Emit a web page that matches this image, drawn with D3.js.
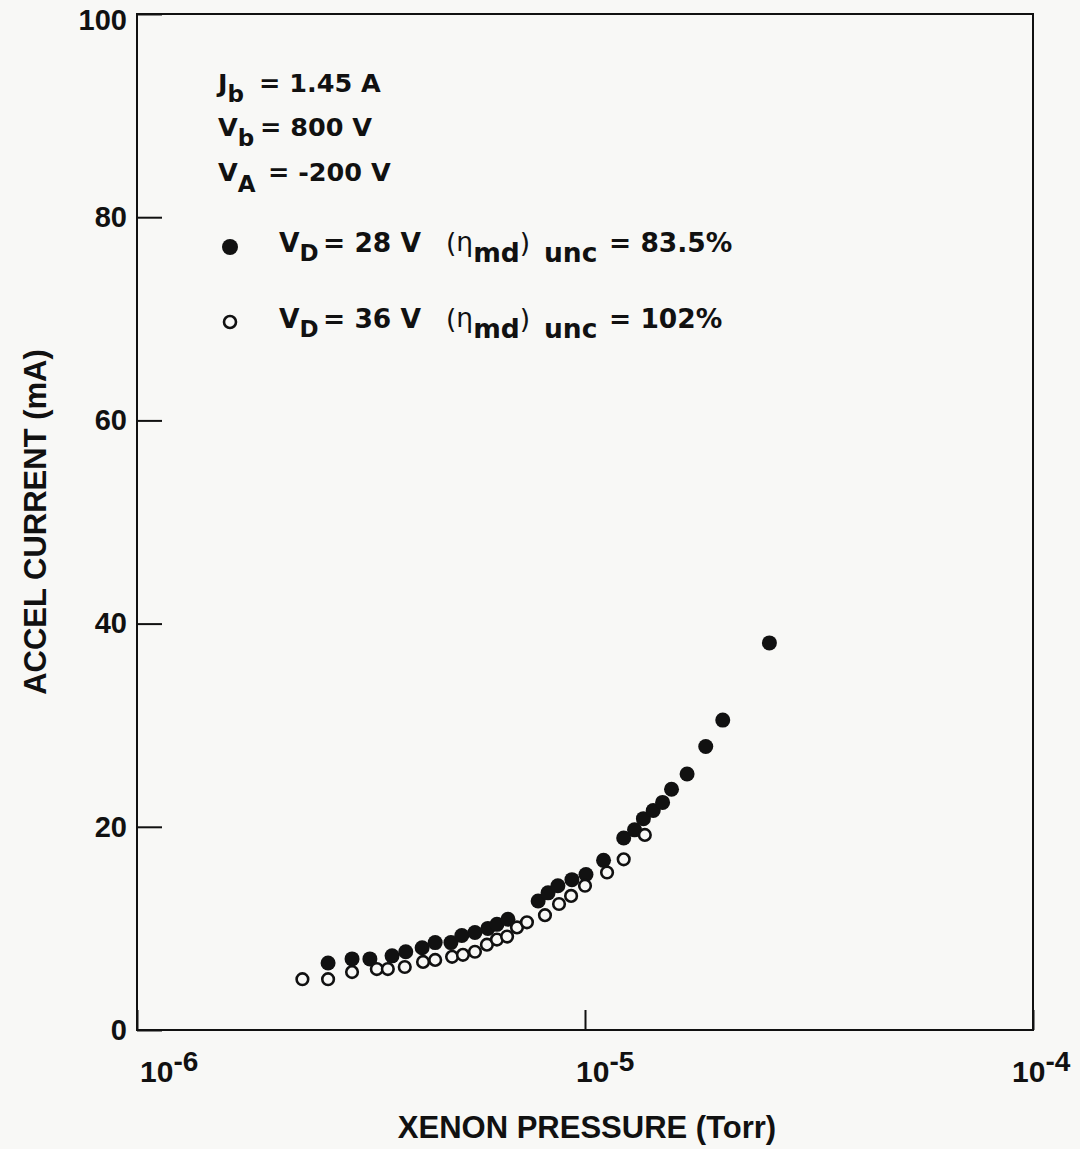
<!DOCTYPE html>
<html>
<head>
<meta charset="utf-8">
<script src="https://cdn.jsdelivr.net/npm/d3@7"></script>
<style>
  html, body { margin: 0; padding: 0; background: #f8f8f6; }
  svg { display: block; }
  text { font-family: "Liberation Sans", Arial, Helvetica, sans-serif; font-weight: bold; fill: #111; }
  .ann text { font-family: "DejaVu Sans", sans-serif; font-weight: bold; }
  .ann text tspan.lite { font-weight: normal; }
</style>
</head>
<body>
<svg id="chart" width="1080" height="1149"></svg>
<script>
// ---- data ----
const pressureFilled = [2.67e-6, 3.02e-6, 3.31e-6, 3.71e-6, 3.98e-6, 4.33e-6, 4.63e-6, 5.02e-6, 5.31e-6, 5.68e-6,
  6.07e-6, 6.36e-6, 6.73e-6, 7.86e-6, 8.27e-6, 8.70e-6, 9.35e-6, 1.005e-5, 1.10e-5, 1.22e-5,
  1.29e-5, 1.35e-5, 1.42e-5, 1.49e-5, 1.56e-5, 1.69e-5, 1.86e-5, 2.03e-5, 2.58e-5];
const currentFilled = [6.6, 7.0, 7.0, 7.3, 7.7, 8.1, 8.6, 8.6, 9.3, 9.6,
  10.0, 10.4, 10.9, 12.7, 13.5, 14.2, 14.8, 15.3, 16.7, 18.9,
  19.7, 20.8, 21.6, 22.4, 23.7, 25.2, 27.9, 30.5, 38.1];

const pressureOpen = [2.34e-6, 2.67e-6, 3.02e-6, 3.43e-6, 3.63e-6, 3.96e-6, 4.35e-6, 4.63e-6, 5.05e-6, 5.34e-6,
  5.68e-6, 6.04e-6, 6.36e-6, 6.70e-6, 7.05e-6, 7.42e-6, 8.14e-6, 8.75e-6, 9.31e-6, 1.0e-5,
  1.12e-5, 1.22e-5, 1.36e-5];
const currentOpen = [5.0, 5.0, 5.7, 6.0, 6.0, 6.2, 6.7, 6.9, 7.2, 7.4,
  7.7, 8.4, 8.9, 9.2, 10.1, 10.6, 11.3, 12.4, 13.2, 14.2,
  15.5, 16.8, 19.2];

const xTicks = [1e-6, 1e-5, 1e-4];
const xTickExponents = ["-6", "-5", "-4"];
const yTicks = [0, 20, 40, 60, 80, 100];

const xTitle = "XENON PRESSURE (Torr)";
const yTitle = "ACCEL CURRENT (mA)";

const params = [
  { main: "J", sub: "b", rest: "= 1.45 A" },
  { main: "V", sub: "b", rest: "= 800 V" },
  { main: "V", sub: "A", rest: "= -200 V" }
];
const legendSeries = [
  { filled: true, vd: "28", eff: "83.5%" },
  { filled: false, vd: "36", eff: "102%" }
];

// ---- layout ----
const W = 1080, H = 1149;
const margin = { left: 137, right: 47, top: 14, bottom: 119 };
const bg = "#f8f8f6";

const svg = d3.select("#chart");
svg.append("rect").attr("width", W).attr("height", H).attr("fill", bg);

const x = d3.scaleLog().domain([1e-6, 1e-4]).range([margin.left, W - margin.right]);
const y = d3.scaleLinear().domain([0, 100]).range([H - margin.bottom, margin.top]);

// y axis (inward ticks)
const gy = svg.append("g")
  .attr("transform", `translate(${margin.left},0)`)
  .call(d3.axisLeft(y).tickValues(yTicks).tickSizeInner(-25).tickSizeOuter(0).tickPadding(10).tickFormat(d3.format("d")));
gy.select(".domain").remove();
gy.selectAll(".tick line").attr("stroke", "#111").attr("stroke-width", 2);
gy.selectAll(".tick text").attr("font-size", 29).attr("fill", "#111")
  .attr("font-family", "Liberation Sans, Arial, sans-serif").attr("font-weight", "bold")
  .attr("dy", d => d === 100 ? "0.52em" : "0.32em");

// x axis (inward ticks)
const gx = svg.append("g")
  .attr("transform", `translate(0,${H - margin.bottom})`)
  .call(d3.axisBottom(x).tickValues(xTicks).tickSizeInner(-20).tickSizeOuter(0).tickFormat(""));
gx.select(".domain").remove();
gx.selectAll(".tick line").attr("stroke", "#111").attr("stroke-width", 2);

const labelShift = [3, -9, -21];
xTicks.forEach((t, i) => {
  const tx = svg.append("text")
    .attr("x", x(t) + labelShift[i])
    .attr("y", H - margin.bottom + 52)
    .attr("font-size", 30)
    .attr("text-anchor", "start");
  tx.append("tspan").text("10");
  tx.append("tspan").attr("font-size", 28).attr("dy", -11).text(xTickExponents[i]);
});

// frame
svg.append("rect")
  .attr("x", margin.left).attr("y", margin.top)
  .attr("width", W - margin.left - margin.right)
  .attr("height", H - margin.top - margin.bottom)
  .attr("fill", "none").attr("stroke", "#111").attr("stroke-width", 2);

// axis titles
svg.append("text")
  .attr("x", 587)
  .attr("y", 1138)
  .attr("text-anchor", "middle")
  .attr("font-size", 31)
  .text(xTitle);

svg.append("text")
  .attr("transform", `translate(46,${y(50)}) rotate(-90)`)
  .attr("text-anchor", "middle")
  .attr("font-size", 31)
  .text(yTitle);

// data points
const filled = pressureFilled.map((p, i) => ({ p, c: currentFilled[i] }));
const open = pressureOpen.map((p, i) => ({ p, c: currentOpen[i] }));

svg.append("g").selectAll("circle").data(filled).join("circle")
  .attr("cx", d => x(d.p)).attr("cy", d => y(d.c)).attr("r", 7.5)
  .attr("fill", "#111");

svg.append("g").selectAll("circle").data(open).join("circle")
  .attr("cx", d => x(d.p)).attr("cy", d => y(d.c)).attr("r", 5.8)
  .attr("fill", bg).attr("stroke", "#111").attr("stroke-width", 2.6);

// annotation block
const ann = svg.append("g").attr("class", "ann");
const paramBase = [92, 136, 181];
const paramEqX = [259, 260, 268];
params.forEach((p, i) => {
  const t = ann.append("text").attr("x", 218).attr("y", paramBase[i]).attr("font-size", 25.5);
  t.append("tspan").text(p.main);
  t.append("tspan").attr("font-size", 23).attr("dy", i === 2 ? 11 : 10).text(p.sub);
  ann.append("text").attr("x", paramEqX[i]).attr("y", paramBase[i]).attr("font-size", 25.5).text(p.rest);
});

// legend rows
const rowBase = [252, 328];
const rowMarkY = [247, 322];
legendSeries.forEach((r, i) => {
  const m = ann.append("circle").attr("cx", 230).attr("cy", rowMarkY[i]);
  if (r.filled) m.attr("r", 8).attr("fill", "#111");
  else m.attr("r", 6).attr("fill", bg).attr("stroke", "#111").attr("stroke-width", 2.6);

  const t1 = ann.append("text").attr("x", 279).attr("y", rowBase[i]).attr("font-size", 26.5);
  t1.append("tspan").text("V");
  t1.append("tspan").attr("font-size", 23).attr("dy", 9).text("D");
  ann.append("text").attr("x", 323).attr("y", rowBase[i]).attr("font-size", 26.5).text("= " + r.vd + " V");

  const t2 = ann.append("text").attr("x", 446).attr("y", rowBase[i]).attr("font-size", 26.5);
  t2.append("tspan").attr("class", "lite").text("(");
  t2.append("tspan").attr("class", "lite").attr("dy", -1).text("η");
  t2.append("tspan").attr("dy", 11).text("md");
  t2.append("tspan").attr("class", "lite").attr("dy", -10).text(")");

  ann.append("text").attr("x", 544).attr("y", rowBase[i] + 10).attr("font-size", 26.5).text("unc");
  ann.append("text").attr("x", 609).attr("y", rowBase[i]).attr("font-size", 26.5).text("= " + r.eff);
});
</script>
</body>
</html>
